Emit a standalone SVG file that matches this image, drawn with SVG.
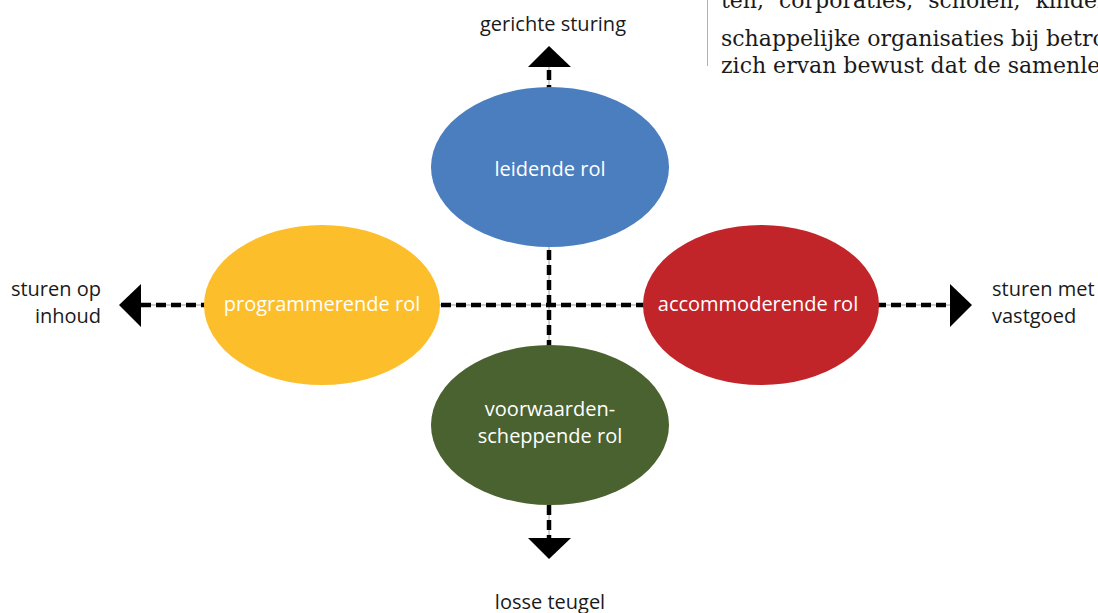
<svg xmlns="http://www.w3.org/2000/svg" width="1098" height="613" viewBox="0 0 1098 613">
<style>
.lbl{font-family:"Open Sans","Liberation Sans",sans-serif;font-size:20px;fill:#1a1a1a}
.in{font-family:"Open Sans","Liberation Sans",sans-serif;font-size:20px;fill:#ffffff;text-anchor:middle}
.body{font-family:"DejaVu Serif","Liberation Serif",serif;font-size:22px;fill:#1a1a1a}
.dash{stroke:#000;stroke-width:4.5;stroke-dasharray:10 5;fill:none}
.thin{stroke:#9a9a9a;stroke-width:1;fill:none}
</style>
<rect width="1098" height="613" fill="#ffffff"/>
<g id="page-text">
<line x1="707.5" y1="0" x2="707.5" y2="66" stroke="#b0b0b0" stroke-width="1"/>
<text class="body" x="721" y="8" word-spacing="8">ten, corporaties, scholen, kinder</text>
<text class="body" x="721" y="46">schappelijke organisaties bij betro</text>
<text class="body" x="721" y="73">zich ervan bewust dat de samenle</text>
</g>
<g id="connectors">
<line class="thin" x1="549" y1="67" x2="549" y2="538"/>
<line class="thin" x1="141" y1="305" x2="950" y2="305"/>
<line class="dash" x1="549" y1="70" x2="549" y2="538"/>
<line class="dash" x1="141" y1="305" x2="950" y2="305"/>
<polygon points="549,46 528,67 571,67" fill="#000"/>
<polygon points="549,559 528,538 571,538" fill="#000"/>
<polygon points="119,305 141,284 141,327" fill="#000"/>
<polygon points="972,305 950,284 950,327" fill="#000"/>
</g>
<g id="node-leidend">
<ellipse cx="550" cy="167" rx="119" ry="80" fill="#4A7EBF"/>
<text class="in" x="550" y="176">leidende rol</text>
</g>
<g id="node-programmerend">
<ellipse cx="322" cy="305" rx="118" ry="80" fill="#FDBE2B"/>
<text class="in" x="322" y="311">programmerende rol</text>
</g>
<g id="node-accommoderend">
<ellipse cx="761" cy="305" rx="118" ry="80" fill="#C1252A"/>
<text class="in" x="758" y="311">accommoderende rol</text>
</g>
<g id="node-voorwaarden">
<ellipse cx="550" cy="425" rx="119" ry="80" fill="#4A622F"/>
<text class="in" x="550" y="416">voorwaarden-</text>
<text class="in" x="550" y="443">scheppende rol</text>
</g>
<g id="axis-labels">
<text class="lbl" x="553" y="31" text-anchor="middle">gerichte sturing</text>
<text class="lbl" x="550" y="609" text-anchor="middle">losse teugel</text>
<text class="lbl" x="101" y="296" text-anchor="end">sturen op</text>
<text class="lbl" x="101" y="323" text-anchor="end">inhoud</text>
<text class="lbl" x="992" y="296">sturen met</text>
<text class="lbl" x="992" y="323">vastgoed</text>
</g>
</svg>
